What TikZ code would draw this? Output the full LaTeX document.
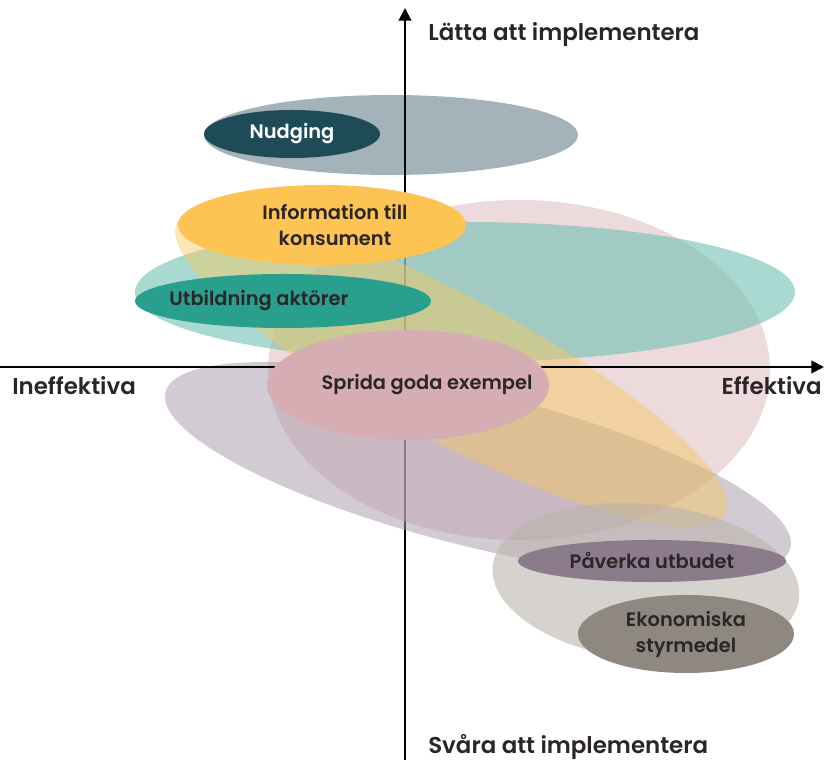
\documentclass[tikz,border=0pt]{standalone}
\usepackage{fontspec}
\setmainfont{Poppins}[BoldFont={Poppins SemiBold}]
\usetikzlibrary{shapes.geometric, arrows.meta}
\definecolor{textmork}{HTML}{2B2527}
\definecolor{nudgmork}{HTML}{1F4B59}
\definecolor{nudgljus}{HTML}{A3B3B9}
\definecolor{infogul}{HTML}{FDC453}
\definecolor{gulljus}{HTML}{F9C75A}
\definecolor{utbgron}{HTML}{29A08D}
\definecolor{gronljus}{HTML}{70C0B2}
\definecolor{spridarosa}{HTML}{D5ADB3}
\definecolor{rosaljus}{HTML}{DBB5BB}
\definecolor{paverkalila}{HTML}{8B7B8B}
\definecolor{lilaljus}{HTML}{A598A8}
\definecolor{ekogra}{HTML}{8F8880}
\definecolor{graljus}{HTML}{BBB4AD}
\tikzset{
  insats/.style={ellipse, inner sep=0pt, align=center, text=textmork,
                 font=\fontsize{13.8}{18.5}\selectfont\bfseries},
  rubrik/.style={inner sep=0pt, text=textmork, font=\fontsize{16.3}{19}\selectfont\bfseries},
  eje/.style={line width=1.4pt, -{Triangle[length=9pt,width=9pt]}}
}

\begin{document}
\begin{tikzpicture}[x=0.025cm, y=0.025cm]
  \useasboundingbox (-405,-395) rectangle (419,367);
  \coordinate (vanster) at (-405,0);
  \coordinate (hoger) at (419,0);
  \coordinate (nedre) at (0,-393);
  \coordinate (ovre) at (0,359);
  % Stora fält bakom varje insats (lodrät axel ligger under dem)
  \fill [nudgljus] (-14,232) ellipse [x radius=187, y radius=40];
  \draw [eje] (nedre) -- (ovre);
  \fill [rosaljus, opacity=0.5] (114,-3) ellipse [x radius=251, y radius=170];
  \fill [lilaljus, opacity=0.5, shift={(73,-103)}, rotate=-14] (0,0) ellipse [x radius=322, y radius=77];
  \fill [gronljus, opacity=0.6] (60,75) ellipse [x radius=330, y radius=70];
  \fill [gulljus, opacity=0.45, shift={(46,-1)}, rotate=-28] (0,0) ellipse [x radius=310, y radius=72];
  \fill [graljus, opacity=0.6, shift={(241,-215)}, rotate=-6] (0,0) ellipse [x radius=154, y radius=78];
  \draw [eje] (vanster) -- (hoger);
  % Insatserna
  \node (nudging) [insats, fill=nudgmork, text=white, minimum width=4.4cm, minimum height=1.2cm] at (-113,233) {Nudging};
  \node (info) [insats, fill=infogul, minimum width=7.2cm, minimum height=2.0cm] at (-83,142) {\hspace*{0.65cm}Information till\\ \hspace*{0.65cm}konsument};
  \node (utb) [insats, fill=utbgron, minimum width=7.4cm, minimum height=1.35cm] at (-122,66) {\makebox[0pt]{Utbildning aktörer\hspace*{1.2cm}}};
  \node (sprida) [insats, fill=spridarosa, minimum width=7.05cm, minimum height=2.75cm] at (3,-18) {\makebox[0pt]{\hspace*{0.95cm}Sprida goda exempel}};
  \node (paverka) [insats, fill=paverkalila, minimum width=6.7cm, minimum height=1.05cm] at (247,-194) {Påverka utbudet};
  \node (eko) [insats, fill=ekogra, minimum width=5.4cm, minimum height=1.95cm] at (281,-267) {Ekonomiska\\ styrmedel};
  % Axeltexter
  \node (latta) [rubrik, anchor=west] at (23,332) {Lätta att implementera};
  \node (svara) [rubrik, anchor=west] at (23,-380) {Svåra att implementera};
  \node (ineff) [rubrik, anchor=west] at (-393,-19) {Ineffektiva};
  \node (eff) [rubrik, anchor=east] at (417,-19) {Effektiva};
\end{tikzpicture}
\end{document}
